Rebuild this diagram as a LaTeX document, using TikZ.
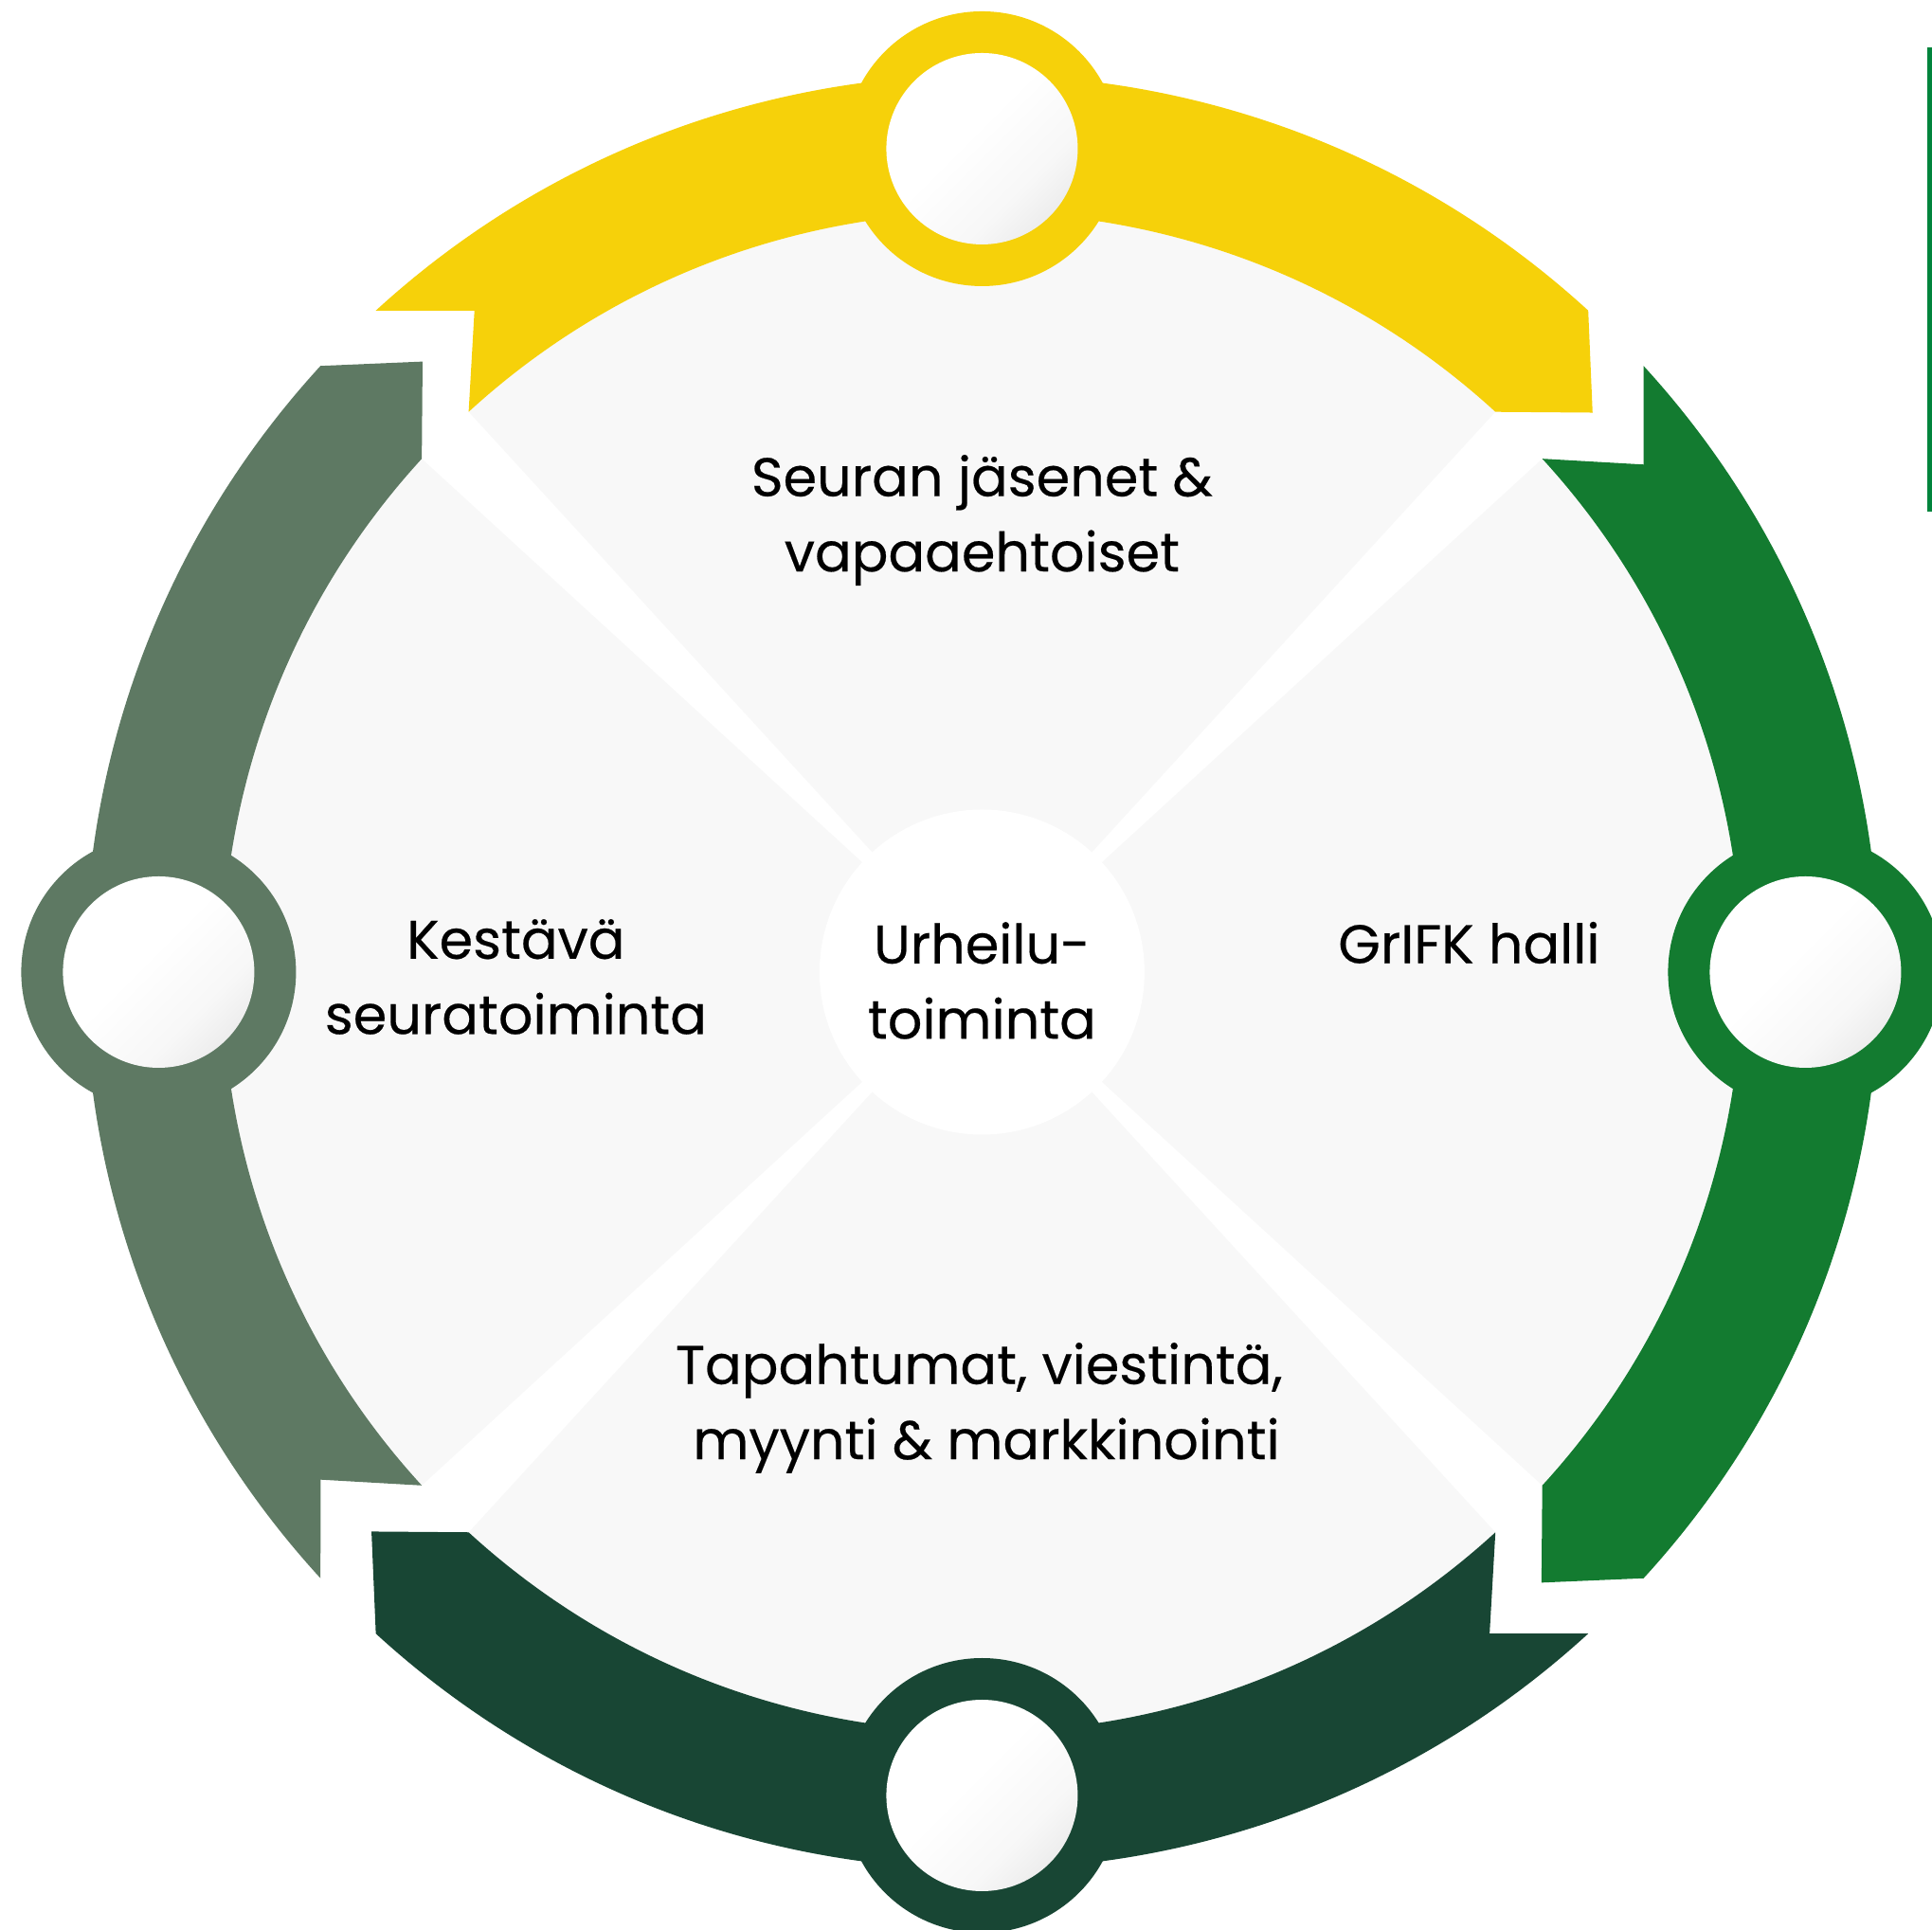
\documentclass[tikz,border=0pt]{standalone}
\usepackage{fontspec}
\setmainfont{Poppins}[FakeBold=0.35]
\usetikzlibrary{positioning}
\definecolor{seurayellow}{HTML}{F6D10A}
\definecolor{halligreen}{HTML}{137B30}
\definecolor{tapahtumagreen}{HTML}{184634}
\definecolor{kestavagreen}{HTML}{5E7963}
\definecolor{bargreen}{HTML}{00843C}
\definecolor{sectorgray}{HTML}{F8F8F8}
\pgfdeclareverticalshading{knobshade}{100bp}{color(0bp)=(black!20); color(15bp)=(black!11); color(35bp)=(black!3); color(55bp)=(white); color(100bp)=(white)}

\begin{document}
\begin{tikzpicture}[thick, node distance=8.69cm,
    ring/.style={circle, minimum size=2.9cm, inner sep=0pt},
    knobcircle/.style={circle, minimum size=2.02cm, inner sep=0pt, shading=knobshade, shading angle=45},
    sector/.style={fill=sectorgray},
    sectortext/.style={font=\fontsize{16.3}{22.6}\selectfont, align=center}]
  \useasboundingbox (0,0) rectangle (20.39,20.36);
  \clip (0,0) rectangle (20.39,20.36);
  \coordinate (c) at (10.364,10.10);

  \begin{scope}[shift={(c)}]
    % quarter backgrounds
    \fill[sector] (0,0) -- (47.5:8.02) arc[start angle=47.5, end angle=132.5, radius=8.02] -- cycle;
    \fill[sector] (0,0) -- (-42.5:8.02) arc[start angle=-42.5, end angle=42.5, radius=8.02] -- cycle;
    \fill[sector] (0,0) -- (-132.5:8.02) arc[start angle=-132.5, end angle=-47.5, radius=8.02] -- cycle;
    \fill[sector] (0,0) -- (137.5:8.02) arc[start angle=137.5, end angle=222.5, radius=8.02] -- cycle;
    % arrow bands, clockwise
    \fill[seurayellow] (132.5:9.47) arc[start angle=132.5, end angle=47.5, radius=9.47] -- (42.5:8.74)
      -- (47.5:8.02) arc[start angle=47.5, end angle=132.5, radius=8.02] -- (127.5:8.80) -- cycle;
    \fill[halligreen, rotate=-90] (132.5:9.47) arc[start angle=132.5, end angle=47.5, radius=9.47] -- (42.5:8.74)
      -- (47.5:8.02) arc[start angle=47.5, end angle=132.5, radius=8.02] -- (127.5:8.80) -- cycle;
    \fill[tapahtumagreen, rotate=-180] (132.5:9.47) arc[start angle=132.5, end angle=47.5, radius=9.47] -- (42.5:8.74)
      -- (47.5:8.02) arc[start angle=47.5, end angle=132.5, radius=8.02] -- (127.5:8.80) -- cycle;
    \fill[kestavagreen, rotate=-270] (132.5:9.47) arc[start angle=132.5, end angle=47.5, radius=9.47] -- (42.5:8.74)
      -- (47.5:8.02) arc[start angle=47.5, end angle=132.5, radius=8.02] -- (127.5:8.80) -- cycle;
  \end{scope}

  \node (hub) [circle, fill=white, minimum size=3.43cm, inner sep=0pt] at (c) {};
  \node (hubtext) [sectortext, yshift=-0.09cm] at (hub) {Urheilu-\\toiminta};
  \node (seura)     [ring, fill=seurayellow, above of=hub] {};
  \node (halli)     [ring, fill=halligreen, right of=hub] {};
  \node (tapahtuma) [ring, fill=tapahtumagreen, below of=hub] {};
  \node (kestava)   [ring, fill=kestavagreen, left of=hub] {};
  \node (seuraknob)     [knobcircle] at (seura) {};
  \node (halliknob)     [knobcircle] at (halli) {};
  \node (tapahtumaknob) [knobcircle] at (tapahtuma) {};
  \node (kestavaknob)   [knobcircle] at (kestava) {};

  \node (seuratext) [sectortext, above of=hub, node distance=4.77cm] {Seuran jäsenet \&\\vapaaehtoiset};
  \node (hallitext) [sectortext, right of=hub, node distance=5.14cm, yshift=0.31cm] {GrIFK halli};
  \node (tapahtumatext) [sectortext, below of=hub, node distance=4.60cm, xshift=-0.03cm] {Tapahtumat, viestintä,\\\ myynti \& markkinointi};
  \node (kestavatext) [sectortext, left of=hub, node distance=4.92cm, yshift=-0.05cm] {Kestävä\\seuratoiminta};

  \fill[bargreen] (20.34,14.96) rectangle (20.39,19.86);
\end{tikzpicture}
\end{document}
